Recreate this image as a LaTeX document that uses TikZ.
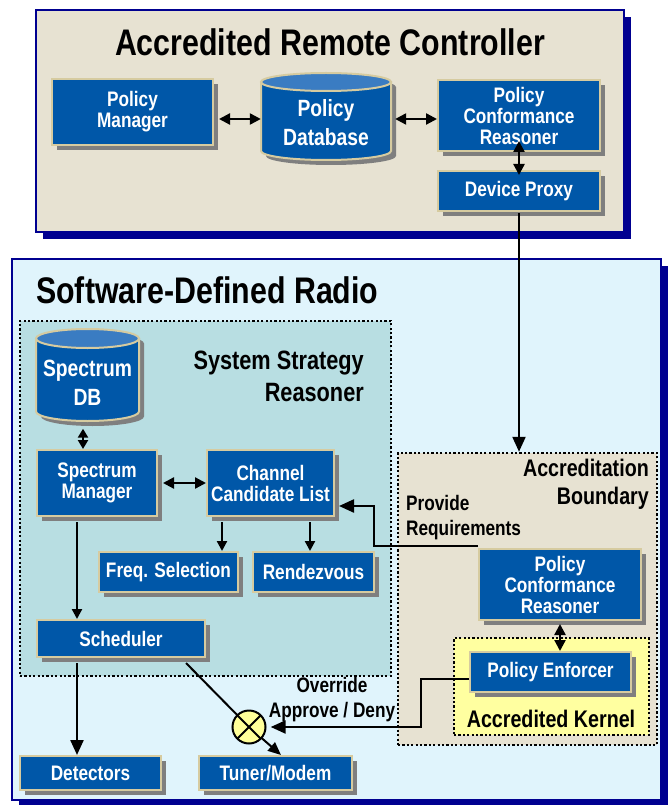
\documentclass[tikz,border=0pt]{standalone}
\usepackage{fontspec}
\setmainfont{Liberation Sans}[FakeStretch=0.82]
\usetikzlibrary{arrows.meta,shadows,calc}
\definecolor{boxblue}{HTML}{0057A8}
\definecolor{boxedge}{HTML}{D6CBA0}
\definecolor{shadowgray}{HTML}{7F7F7F}
\definecolor{cyltop}{HTML}{3A7CC2}
\definecolor{beige}{HTML}{E7E2D2}
\definecolor{framenavy}{HTML}{000090}
\definecolor{sdrbg}{HTML}{E0F4FC}
\definecolor{ssrbg}{HTML}{B8DEE2}
\definecolor{kernelbg}{HTML}{FFFFA0}
\definecolor{xoryellow}{HTML}{FFFF99}
\newcommand\dbcyl[5]{% cx, rx, y top centre, y bottom centre, ry
  \fill[shadowgray, shift={(5,5)}] ({#1-#2},#3) arc[start angle=180,end angle=0,x radius=#2pt,y radius=#5pt] -- ({#1+#2},#4) arc[start angle=0,end angle=-180,x radius=#2pt,y radius=#5pt] -- cycle;
  \filldraw[fill=boxblue, draw=boxedge, line width=2pt] ({#1-#2},#3) -- ({#1-#2},#4) arc[start angle=180,end angle=360,x radius=#2pt,y radius=#5pt] -- ({#1+#2},#3) -- cycle;
  \filldraw[fill=cyltop, draw=boxedge, line width=2pt] (#1,#3) ellipse[x radius=#2pt, y radius=#5pt];
}
\tikzset{
  framebox/.style={draw=framenavy, line width=2pt, inner sep=0pt,
    drop shadow={shadow xshift=7pt, shadow yshift=-7pt, fill=framenavy, opacity=1}},
  dotbox/.style={draw=black, line width=2.5pt, dash pattern=on 2.2pt off 2.2pt, inner sep=0pt},
  bluebox/.style={draw=boxedge, line width=2pt, fill=boxblue, text=white, align=center, inner sep=0pt,
    font=\fontsize{21}{21}\selectfont\bfseries,
    drop shadow={shadow xshift=5pt, shadow yshift=-5pt, fill=shadowgray, opacity=1}},
  cyltext/.style={text=white, align=center, inner sep=0pt, font=\fontsize{23.5}{29}\selectfont\bfseries},
  ttl/.style={inner sep=0pt, font=\fontsize{37}{37}\selectfont\bfseries},
  lbl/.style={inner sep=0pt, font=\fontsize{24}{28}\selectfont\bfseries},
  note/.style={inner sep=0pt, font=\fontsize{21}{25}\selectfont\bfseries},
  conn/.style={line width=2.3pt, draw=black},
  arrbig/.style={conn, -{Triangle[length=15pt,width=13pt]}},
  arrmid/.style={conn, line width=2pt, -{Triangle[length=13pt,width=11pt]}},
  arrsm/.style={conn, -{Triangle[length=10pt,width=10pt]}},
  arrdbl/.style={conn, {Triangle[length=11pt,width=11pt]}-{Triangle[length=11pt,width=11pt]}},
  arrdblsm/.style={conn, {Triangle[length=9pt,width=10pt]}-{Triangle[length=9pt,width=10pt]}},
}
\begin{document}
\begin{tikzpicture}[x=1pt,y=-1pt]
\useasboundingbox (0,0) rectangle (670,805);
\fill[white] (0,0) rectangle (670,805);
% frames
\node[framebox, fill=beige, minimum width=588pt, minimum height=222pt] (arc) at (330,121) {};
\node[ttl] (arctitle) at (330,42) {Accredited Remote Controller};
\node[framebox, fill=sdrbg, minimum width=649pt, minimum height=541pt] (sdr) at (336.5,529.5) {};
\node[ttl, anchor=west] (sdrtitle) at (36,290) {Software-Defined Radio};
\node[dotbox, fill=ssrbg, minimum width=371pt, minimum height=355pt] (ssr) at (205.5,498.5) {};
\node[lbl, anchor=east, align=right, font=\fontsize{26.5}{32}\selectfont\bfseries] (ssrlabel) at (364,376) {System Strategy\\Reasoner};
\node[dotbox, fill=beige, minimum width=259pt, minimum height=292pt] (ab) at (527.5,599) {};
\node[lbl, anchor=east, align=right] (ablabel) at (649,484) {Accreditation\\Boundary};
\node[dotbox, fill=kernelbg, minimum width=195pt, minimum height=97pt] (ak) at (551.5,686.5) {};
\node[lbl] (aklabel) at (551,719) {Accredited Kernel};
\node[note, anchor=west, align=left] (provide) at (406,517.5) {Provide\\Requirements};
\node[note, align=center] (override) at (332,700) {Override\\Approve / Deny};
% placeholders for cylinder anchors (text drawn later)
\path (326,122.5) node[minimum width=130pt, minimum height=87pt, inner sep=0pt] (pdb) {};
\path (87.5,382.5) node[minimum width=103pt, minimum height=92pt, inner sep=0pt] (sdb) {};
% blue boxes
\node[bluebox, minimum width=161pt, minimum height=66pt] (pm) at (132.5,112) {Policy\\Manager};
\node[bluebox, minimum width=162pt, minimum height=71pt] (pcr) at (519,115.5) {Policy\\Conformance\\Reasoner};
\node[bluebox, minimum width=162pt, minimum height=40pt] (dp) at (519,191) {Device Proxy};
\node[bluebox, minimum width=120pt, minimum height=66pt] (sm) at (97,483) {Spectrum\\Manager};
\node[bluebox, minimum width=127pt, minimum height=66pt] (ccl) at (270.5,483) {Channel\\Candidate List};
\node[bluebox, minimum width=139pt, minimum height=40pt] (fs) at (168.5,572) {Freq. Selection};
\node[bluebox, minimum width=121pt, minimum height=40pt] (rv) at (313.5,572) {Rendezvous};
\node[bluebox, minimum width=168pt, minimum height=37pt] (sch) at (121,638.5) {Scheduler};
\node[bluebox, minimum width=141pt, minimum height=34pt] (det) at (90.5,773) {Detectors};
\node[bluebox, minimum width=153pt, minimum height=34pt] (tm) at (275.5,773) {Tuner/Modem};
\node[bluebox, minimum width=162pt, minimum height=71pt] (pcr2) at (560,584.5) {Policy\\Conformance\\Reasoner};
\node[bluebox, minimum width=161pt, minimum height=40pt] (pe) at (550.5,672) {Policy Enforcer};
% cylinders
\dbcyl{326}{65}{82}{151}{9}
\node[cyltext] (pdbtext) at (pdb.center) {Policy\\Database};
\dbcyl{87.5}{51.5}{338.5}{411.5}{9.5}
\node[cyltext] (sdbtext) at (sdb.center) {Spectrum\\DB};
% connectors
\draw[arrdbl] ([yshift=-7pt,xshift=5pt]pm.east) -- ([yshift=-7pt]pm.east -| pdb.west);
\draw[arrdbl] ([yshift=-3.5pt,xshift=4pt]pcr.west -| pdb.east) -- ([yshift=-3.5pt]pcr.west);
\draw[arrdbl] ([yshift=11pt]pcr.south) -- ([yshift=-5pt]dp.north);
\draw[arrbig] ([yshift=-1pt]dp.south) -- (dp.south |- ab.north);
\draw[arrdblsm] (sdb.south -| 83,0) -- (sm.north -| 83,0);
\draw[arrdbl] ([xshift=5pt]sm.east) -- (ccl.west);
\draw[arrsm] ([yshift=-5pt]ccl.south -| 222,0) -- (fs.north -| 222,0);
\draw[arrsm] ([yshift=-5pt]ccl.south -| 310,0) -- (rv.north -| 310,0);
\draw[arrsm] ([yshift=-5pt]sm.south -| 77,0) -- (sch.north -| 77,0);
\draw[arrbig] ([yshift=-5pt]sch.south -| 77,0) -- (det.north -| 77,0);
\draw[arrbig] ([yshift=2pt]pcr2.north west) -| ([yshift=-23pt,xshift=39pt]ccl.east) -- ([yshift=-23pt,xshift=4pt]ccl.east);
\draw[arrdbl] ([yshift=-3pt]pcr2.south) -- (pcr2.south |- pe.north);
\node[minimum size=33pt, inner sep=0pt, circle] (xor) at (249,727) {};
\draw[arrmid] ([yshift=-5pt]sch.south -| 186,0) -- (xor.center) -- (tm.north -| 281,0);
\draw[arrbig] ([yshift=-7pt]pe.west) -| (xor.east -| 421,0) -- ([xshift=5pt]xor.east);
\node[circle, draw=black, line width=2pt, fill=xoryellow, minimum size=33pt, inner sep=0pt,
  path picture={\draw[line width=2pt] (path picture bounding box.north west) -- (path picture bounding box.south east)
    (path picture bounding box.north east) -- (path picture bounding box.south west);}] (xorsym) at (xor.center) {};
\end{tikzpicture}
\end{document}
